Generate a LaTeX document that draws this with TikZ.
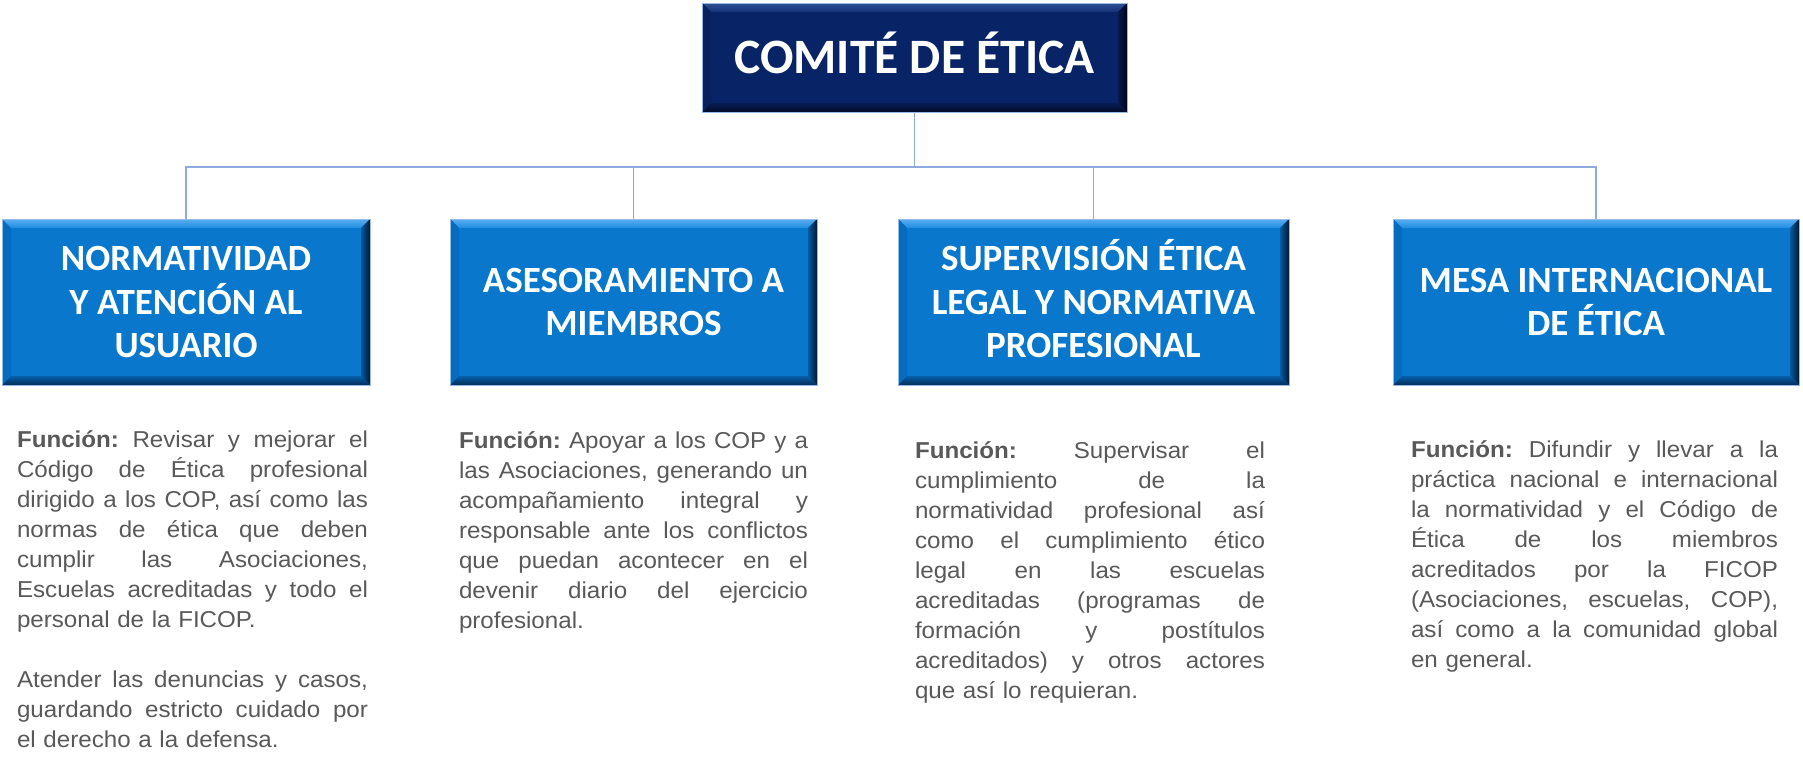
\documentclass[tikz,border=0pt]{standalone}
\usepackage{fontspec}
\setmainfont{Liberation Sans}[FakeStretch=1.05]
\newfontfamily\headfont{Carlito}
\usetikzlibrary{calc}
\definecolor{childfill}{RGB}{8,119,204}
\definecolor{navyfill}{RGB}{8,36,102}
\definecolor{edgeblue}{RGB}{150,185,230}
\definecolor{conncol}{RGB}{143,170,220}
\definecolor{bodygray}{RGB}{89,89,89}
% child bevel colours
\definecolor{cTL}{RGB}{90,175,240}
\definecolor{cTD}{RGB}{30,140,225}
\definecolor{cL}{RGB}{6,108,190}
\definecolor{cRL}{RGB}{5,90,160}
\definecolor{cRD}{RGB}{0,25,50}
\definecolor{cBL}{RGB}{6,95,170}
\definecolor{cBD}{RGB}{3,45,90}
% navy bevel colours
\definecolor{nTL}{RGB}{50,80,150}
\definecolor{nTD}{RGB}{20,50,120}
\definecolor{nL}{RGB}{8,32,92}
\definecolor{nRL}{RGB}{5,25,80}
\definecolor{nRD}{RGB}{0,5,25}
\definecolor{nBL}{RGB}{6,28,85}
\definecolor{nBD}{RGB}{2,12,40}
\newcommand{\bevel}[3]{%
  \shade[top color=#3TL, bottom color=#3TD] (#1.north west) -- (#1.north east) -- ($(#1.north east)+(-#2,-#2)$) -- ($(#1.north west)+(#2,-#2)$) -- cycle;
  \fill[#3L] (#1.north west) -- ($(#1.north west)+(#2,-#2)$) -- ($(#1.south west)+(#2,#2)$) -- (#1.south west) -- cycle;
  \shade[left color=#3RL, right color=#3RD] (#1.north east) -- (#1.south east) -- ($(#1.south east)+(-#2,#2)$) -- ($(#1.north east)+(-#2,-#2)$) -- cycle;
  \shade[top color=#3BL, bottom color=#3BD] (#1.south west) -- (#1.south east) -- ($(#1.south east)+(-#2,#2)$) -- ($(#1.south west)+(#2,#2)$) -- cycle;
  \draw[edgeblue, line width=0.8pt] (#1.north west) rectangle (#1.south east);
}
\newcommand{\jl}[1]{{\frenchspacing\spaceskip=0.278em plus 1fil\xspaceskip=0.278em plus 1fil\parfillskip=0pt\relax #1\par}}
\newcommand{\fn}{\textbf{Función:}\hskip 0.278em plus 1fil\relax}
\newcommand{\fnl}{\textbf{Función:}\hskip 0.278em\relax}
\tikzset{
  childbox/.style={rectangle, fill=childfill, minimum height=166pt, inner sep=0pt, outer sep=0pt,
    text=white, align=center, font=\headfont\bfseries\fontsize{37}{43.7}\selectfont},
  topbox/.style={rectangle, fill=navyfill, minimum width=425pt, minimum height=109pt, inner sep=0pt, outer sep=0pt,
    text height=32pt, text depth=0pt,
    text=white, align=center, font=\headfont\bfseries\fontsize{49.5}{56}\selectfont},
  conn/.style={draw=conncol, line width=1.5pt},
  bodytext/.style={anchor=base west, inner sep=0pt, outer sep=0pt, text=bodygray,
    font=\fontsize{23}{30}\selectfont}
}
\begin{document}
\begin{tikzpicture}[x=1pt,y=-1pt]
\fill[white] (0,0) rectangle (1803,766);
\useasboundingbox (0,0) rectangle (1803,766);

\coordinate (bus) at (914.5,167);
\node[topbox] (top) at (914.5,57.5) {COMIT\smash{É} DE \smash{É}TICA};
\node[childbox, minimum width=368pt] (b1) at (186,302) {NORMATIVIDAD\\Y ATENCIÓN AL\\USUARIO};
\node[childbox, minimum width=367pt] (b2) at (633.5,302) {ASESORAMIENTO A\\MIEMBROS};
\node[childbox, minimum width=391pt] (b3) at (1093.5,302) {SUPERVISI\smash{Ó}N \smash{É}TICA\\LEGAL Y NORMATIVA\\PROFESIONAL};
\node[childbox, minimum width=406pt] (b4) at (1596,302) {MESA INTERNACIONAL\\DE ÉTICA};

\draw[conn] (top.south) -- (bus);
\draw[conn] (b1.north) |- (bus);
\draw[conn] (b2.north) |- (bus);
\draw[conn] (b3.north) |- (bus);
\draw[conn] (b4.north) |- (bus);

\bevel{top}{9pt}{n}
\bevel{b1}{9pt}{c}
\bevel{b2}{9pt}{c}
\bevel{b3}{9pt}{c}
\bevel{b4}{9pt}{c}

\node[bodytext, text width=351pt] (t1) at (17,447) {%
\jl{\fn Revisar y mejorar el}%
\jl{Código de Ética profesional}%
\jl{dirigido a los COP, así como las}%
\jl{normas de ética que deben}%
\jl{cumplir las Asociaciones,}%
\jl{Escuelas acreditadas y todo el}%
personal de la FICOP.\par
\mbox{}\par
\jl{Atender las denuncias y casos,}%
\jl{guardando estricto cuidado por}%
el derecho a la defensa.\par};

\node[bodytext, text width=349pt] (t2) at (459,448) {%
\jl{\fn Apoyar a los COP y a}%
\jl{las Asociaciones, generando un}%
\jl{acompañamiento integral y}%
\jl{responsable ante los conflictos}%
\jl{que puedan acontecer en el}%
\jl{devenir diario del ejercicio}%
profesional.\par};

\node[bodytext, text width=350pt] (t3) at (915,458) {%
\jl{\fn Supervisar el}%
\jl{cumplimiento de la}%
\jl{normatividad profesional así}%
\jl{como el cumplimiento ético}%
\jl{legal en las escuelas}%
\jl{acreditadas (programas de}%
\jl{formación y postítulos}%
\jl{acreditados) y otros actores}%
que así lo requieran.\par};

\node[bodytext, text width=367pt] (t4) at (1411,457) {%
\jl{\fn Difundir y llevar a la}%
\jl{práctica nacional e internacional}%
\jl{la normatividad y el Código de}%
\jl{Ética de los miembros}%
\jl{acreditados por la FICOP}%
\jl{(Asociaciones, escuelas, COP),}%
\jl{así como a la comunidad global}%
en general.\par};
\end{tikzpicture}
\end{document}
